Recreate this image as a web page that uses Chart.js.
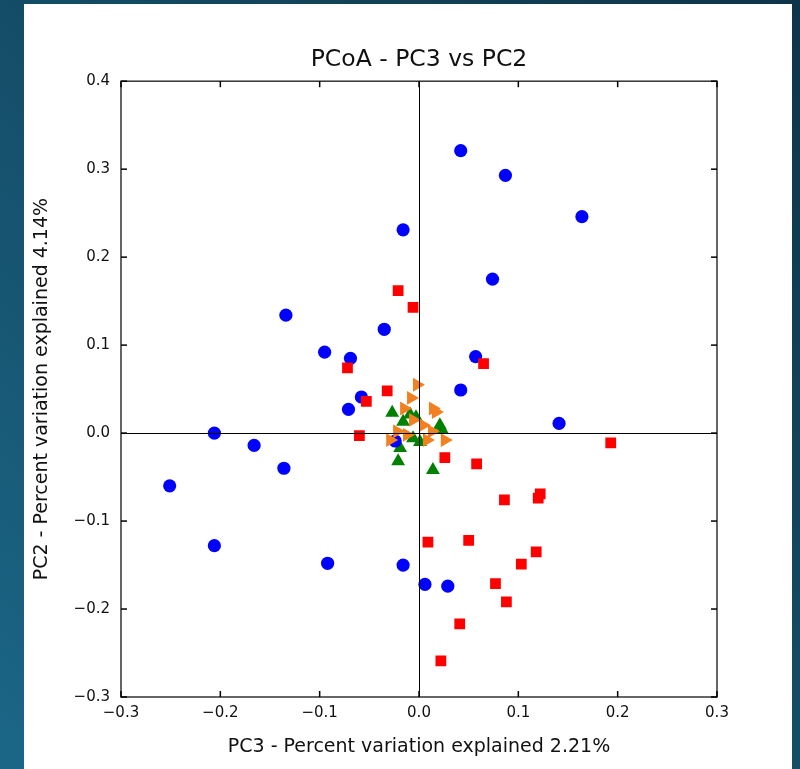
<!DOCTYPE html>
<html>
<head>
<meta charset="utf-8">
<script src="https://cdn.jsdelivr.net/npm/chart.js@4.4.1/dist/chart.umd.min.js"></script>
<style>
  html, body { margin:0; padding:0; width:800px; height:769px; overflow:hidden; }
  body { background: linear-gradient(to top right, #1b6687, #0e3448); position:relative; }
  #panel { position:absolute; left:24px; top:4px; width:768px; height:780px; background:#fff; }
  #c { position:absolute; left:0; top:0; }
</style>
</head>
<body>
<div id="panel"></div>
<canvas id="c" width="800" height="769"></canvas>
<script>
// ---- data ----
const blueX = [0.042,0.087,0.164,-0.016,0.074,-0.134,-0.035,-0.095,-0.069,0.057,0.042,-0.058,-0.071,0.141,-0.206,-0.166,-0.024,-0.136,-0.251,-0.206,-0.092,-0.016,0.006,0.029];
const blueY = [0.321,0.293,0.246,0.231,0.175,0.134,0.118,0.092,0.085,0.087,0.049,0.041,0.027,0.011,0.000,-0.014,-0.009,-0.040,-0.060,-0.128,-0.148,-0.150,-0.172,-0.174];

const redX = [-0.021,-0.006,-0.072,0.065,-0.032,-0.053,-0.060,0.193,0.026,0.058,0.086,0.122,0.120,0.009,0.050,0.118,0.103,0.077,0.088,0.041,0.022];
const redY = [0.162,0.143,0.074,0.079,0.048,0.036,-0.003,-0.011,-0.028,-0.035,-0.076,-0.069,-0.074,-0.124,-0.122,-0.135,-0.149,-0.171,-0.192,-0.217,-0.259];

const orangeX = [-0.002,-0.008,-0.015,0.014,0.017,-0.006,0.004,-0.022,-0.029,0.008,0.026,-0.012,0.013];
const orangeY = [0.055,0.040,0.028,0.028,0.024,0.015,0.009,0.002,-0.008,-0.008,-0.008,-0.002,0.002];

const greenX = [-0.027,-0.009,-0.016,0.021,0.023,-0.006,0.001,-0.019,-0.021,0.014,-0.003];
const greenY = [0.023,0.021,0.013,0.009,0.004,-0.006,-0.010,-0.017,-0.032,-0.042,0.018];

const xTicks = [-0.3,-0.2,-0.1,0.0,0.1,0.2,0.3];
const xTickLabels = ['\u22120.3','\u22120.2','\u22120.1','0.0','0.1','0.2','0.3'];
const yTicks = [-0.3,-0.2,-0.1,0.0,0.1,0.2,0.3,0.4];
const yTickLabels = ['\u22120.3','\u22120.2','\u22120.1','0.0','0.1','0.2','0.3','0.4'];

const titleText = 'PCoA - PC3 vs PC2';
const xTitle = 'PC3 - Percent variation explained 2.21%';
const yTitle = 'PC2 - Percent variation explained 4.14%';

const pts = (xs, ys) => xs.map((x, i) => ({x, y: ys[i]}));

const FONT = "'DejaVu Sans', 'Liberation Sans', sans-serif";

const framePlugin = {
  id: 'frame',
  afterDraw(chart) {
    const {ctx, chartArea: a, scales: {x, y}} = chart;
    ctx.save();
    ctx.strokeStyle = '#000';
    ctx.lineWidth = 1;
    const line = (x1, y1, x2, y2) => { ctx.beginPath(); ctx.moveTo(x1, y1); ctx.lineTo(x2, y2); ctx.stroke(); };
    // zero lines
    const x0 = Math.round(x.getPixelForValue(0)) + 0.5;
    const y0 = Math.round(y.getPixelForValue(0)) + 0.5;
    line(x0, a.top, x0, a.bottom);
    line(a.left, y0, a.right, y0);
    // frame
    ctx.strokeStyle = '#333';
    ctx.lineWidth = 1.5;
    ctx.strokeRect(a.left, a.top, a.right - a.left, a.bottom - a.top);
    // inward ticks
    ctx.strokeStyle = '#000';
    ctx.lineWidth = 1.5;
    x.ticks.forEach(t => {
      const p = x.getPixelForValue(t.value);
      line(p, a.bottom, p, a.bottom - 6);
      line(p, a.top, p, a.top + 6);
    });
    y.ticks.forEach(t => {
      const p = y.getPixelForValue(t.value);
      line(a.left, p, a.left + 6, p);
      line(a.right, p, a.right - 6, p);
    });
    ctx.restore();
  }
};

new Chart(document.getElementById('c'), {
  type: 'scatter',
  data: {
    datasets: [
      { label: 'red', data: pts(redX, redY), pointStyle: 'rect', pointRadius: 7.6, backgroundColor: '#ff0000', borderWidth: 0 },
      { label: 'orange', data: pts(orangeX, orangeY), pointStyle: 'triangle', rotation: 90, pointRadius: 8, backgroundColor: '#f28020', borderWidth: 0 },
      { label: 'blue', data: pts(blueX, blueY), pointStyle: 'circle', pointRadius: 6.6, backgroundColor: '#0000ff', borderWidth: 0 },
      { label: 'green', data: pts(greenX, greenY), pointStyle: 'triangle', pointRadius: 8, backgroundColor: '#008000', borderWidth: 0 }
    ]
  },
  options: {
    responsive: false,
    animation: false,
    events: [],
    layout: { padding: { left: 24, right: 83, top: 0, bottom: 0 } },
    plugins: {
      legend: { display: false },
      tooltip: { enabled: false },
      title: {
        display: true, text: titleText, fullSize: false, color: '#111',
        font: { family: FONT, size: 23.5, weight: 'normal', lineHeight: 1.2 },
        padding: { top: 46, bottom: 7 }
      }
    },
    scales: {
      x: {
        type: 'linear', min: -0.3, max: 0.3,
        afterBuildTicks: s => { s.ticks = xTicks.map(v => ({value: v})); },
        afterFit: s => { s.height = 72; },
        grid: { display: false, drawTicks: false },
        border: { display: false },
        ticks: {
          color: '#111', padding: 7, font: { family: FONT, size: 15 },
          maxRotation: 0,
          callback: (v) => { const i = xTicks.findIndex(t => Math.abs(t - v) < 1e-9); return i >= 0 ? xTickLabels[i] : ''; }
        },
        title: {
          display: true, text: xTitle, color: '#111',
          font: { family: FONT, size: 19, lineHeight: 1.2 },
          padding: { top: 0, bottom: 11 }
        }
      },
      y: {
        type: 'linear', min: -0.3, max: 0.4,
        afterBuildTicks: s => { s.ticks = yTicks.map(v => ({value: v})); },
        afterFit: s => { s.width = 97; },
        grid: { display: false, drawTicks: false },
        border: { display: false },
        ticks: {
          color: '#111', padding: 11, font: { family: FONT, size: 15 },
          callback: (v) => { const i = yTicks.findIndex(t => Math.abs(t - v) < 1e-9); return i >= 0 ? yTickLabels[i] : ''; }
        },
        title: {
          display: true, text: yTitle, color: '#111',
          font: { family: FONT, size: 19, lineHeight: 1.2 },
          padding: { top: 6.6, bottom: 0 }
        }
      }
    }
  },
  plugins: [framePlugin]
});
</script>
</body>
</html>
